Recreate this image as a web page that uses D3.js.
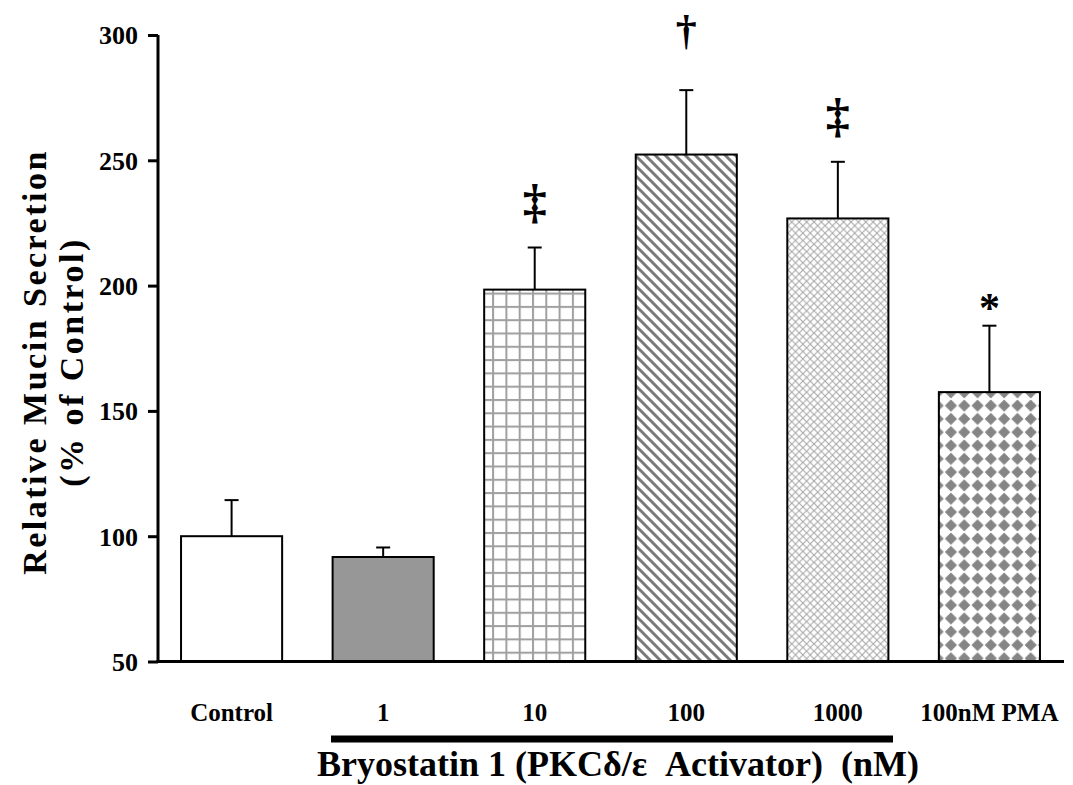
<!DOCTYPE html>
<html>
<head>
<meta charset="utf-8">
<script src="https://cdn.jsdelivr.net/npm/d3@7"></script>
<style>
  html, body { margin: 0; padding: 0; background: #fff; }
  svg text { font-family: "Liberation Serif", "Times New Roman", serif; font-weight: bold; fill: #000; }
</style>
</head>
<body>
<svg id="chart" width="1073" height="785"></svg>
<script>
// Mucin secretion after bryostatin 1 / PMA treatment (mean, upper SEM)
const categories = ["Control", "1", "10", "100", "1000", "100nM PMA"];
const means      = [100, 91.7, 198.4, 252.3, 226.8, 157.5];
const errorTops  = [114.4, 95.5, 215.2, 278, 249.4, 184];
const markers    = ["", "", "‡", "†", "‡", "*"];
const fills      = ["white", "solid", "grid", "diag", "cross", "diamond"];
const yTicks     = [50, 100, 150, 200, 250, 300];

const svg = d3.select("#chart");
const defs = svg.append("defs");

// Fill patterns
const grid = defs.append("pattern").attr("id", "grid").attr("patternUnits", "userSpaceOnUse")
  .attr("width", 13.3).attr("height", 13.3).attr("x", 0).attr("y", 0);
grid.append("rect").attr("width", 13.3).attr("height", 13.3).attr("fill", "#fff");
grid.append("rect").attr("x", 0).attr("y", 0).attr("width", 2).attr("height", 13.3).attr("fill", "#a0a0a0");
grid.append("rect").attr("x", 0).attr("y", 0).attr("width", 13.3).attr("height", 2).attr("fill", "#a0a0a0");

const diag = defs.append("pattern").attr("id", "diag").attr("patternUnits", "userSpaceOnUse")
  .attr("width", 10).attr("height", 10);
diag.append("rect").attr("width", 10).attr("height", 10).attr("fill", "#fff");
diag.append("path").attr("d", "M-5,-5 L15,15 M-5,5 L5,15 M5,-5 L15,5")
  .attr("stroke", "#7a7a7a").attr("stroke-width", 3);

const cross = defs.append("pattern").attr("id", "cross").attr("patternUnits", "userSpaceOnUse")
  .attr("width", 7.4).attr("height", 7.4);
cross.append("rect").attr("width", 7.4).attr("height", 7.4).attr("fill", "#fff");
cross.append("path").attr("d", "M0,0 L7.4,7.4 M7.4,0 L0,7.4")
  .attr("stroke", "#a8a8a8").attr("stroke-width", 1.1);

const diamond = defs.append("pattern").attr("id", "diamond").attr("patternUnits", "userSpaceOnUse")
  .attr("width", 13.3).attr("height", 13.3);
diamond.append("rect").attr("width", 13.3).attr("height", 13.3).attr("fill", "#fff");
diamond.append("path").attr("d", "M6.65,1.2 L12.1,6.65 L6.65,12.1 L1.2,6.65 Z")
  .attr("fill", "#858585").attr("stroke", "#858585").attr("stroke-width", 1).attr("stroke-linejoin", "round");

const fillFor = f => f === "white" ? "#fff" : f === "solid" ? "#979797" : `url(#${f})`;

// Scales
const x = d3.scaleBand().domain(categories).range([158, 1063]).paddingInner(0.333).paddingOuter(0.152);
const y = d3.scaleLinear().domain([50, 300]).range([661.5, 35]);

// Bars
const g = svg.append("g");
g.selectAll("rect.bar").data(categories).join("rect")
  .attr("class", "bar")
  .attr("x", d => x(d))
  .attr("width", x.bandwidth())
  .attr("y", (d, i) => y(means[i]))
  .attr("height", (d, i) => y(50) - y(means[i]))
  .attr("fill", (d, i) => fillFor(fills[i]))
  .attr("stroke", "#000").attr("stroke-width", 2);

// Upper error bars
const cx = d => x(d) + x.bandwidth() / 2;
g.selectAll("line.err").data(categories).join("line")
  .attr("x1", cx).attr("x2", cx)
  .attr("y1", (d, i) => y(means[i])).attr("y2", (d, i) => y(errorTops[i]))
  .attr("stroke", "#000").attr("stroke-width", 2);
g.selectAll("line.cap").data(categories).join("line")
  .attr("x1", d => cx(d) - 7).attr("x2", d => cx(d) + 7)
  .attr("y1", (d, i) => y(errorTops[i])).attr("y2", (d, i) => y(errorTops[i]))
  .attr("stroke", "#000").attr("stroke-width", 2);

// Significance markers: gap above the error cap and size per symbol
const markStyle = { "‡": { gap: 30, size: 48 }, "†": { gap: 46, size: 42 }, "*": { gap: 4, size: 42 } };
g.selectAll("text.mark").data(categories.filter((d, i) => markers[i])).join("text")
  .attr("class", "mark")
  .attr("x", cx)
  .attr("y", d => { const i = categories.indexOf(d); return y(errorTops[i]) - markStyle[markers[i]].gap; })
  .attr("text-anchor", "middle")
  .style("font-size", d => markStyle[markers[categories.indexOf(d)]].size + "px")
  .text(d => markers[categories.indexOf(d)]);

// Y axis
const yAxis = d3.axisLeft(y).tickValues(yTicks).tickSize(10).tickPadding(10).tickFormat(d3.format("d"));
const ya = svg.append("g").attr("transform", "translate(158,0)").call(yAxis);
ya.select(".domain").attr("stroke", "#000").attr("stroke-width", 3).attr("d", `M0,${y(300)}V${y(50)}`);
ya.selectAll(".tick line").attr("stroke", "#000").attr("stroke-width", 3);
ya.selectAll(".tick text").style("font-size", "26px").attr("dy", "0.34em")
  .style("font-family", "'Liberation Serif', serif").style("font-weight", "bold");

// X axis baseline
svg.append("line").attr("x1", 156.5).attr("x2", 1064).attr("y1", y(50)).attr("y2", y(50))
  .attr("stroke", "#000").attr("stroke-width", 3);

// Category labels
svg.selectAll("text.cat").data(categories).join("text")
  .attr("class", "cat")
  .attr("x", cx).attr("y", 721)
  .attr("text-anchor", "middle")
  .style("font-size", "25px")
  .text(d => d);

// Bracket bar under the bryostatin doses
svg.append("line").attr("x1", 331).attr("x2", 893).attr("y1", 739).attr("y2", 739)
  .attr("stroke", "#000").attr("stroke-width", 7);

// X title
svg.append("text").attr("x", 618).attr("y", 776).attr("text-anchor", "middle")
  .attr("xml:space", "preserve")
  .style("font-size", "36px")
  .text("Bryostatin 1 (PKCδ/ε  Activator)  (nM)");

// Y title
const yt = svg.append("text").attr("transform", "translate(0,362) rotate(-90)").attr("text-anchor", "middle")
  .style("font-size", "34px").style("letter-spacing", "2.5px");
yt.append("tspan").attr("x", 0).attr("y", 46).text("Relative Mucin Secretion");
yt.append("tspan").attr("x", 0).attr("y", 83).attr("xml:space", "preserve").text("(% of Control)");
</script>
</body>
</html>
